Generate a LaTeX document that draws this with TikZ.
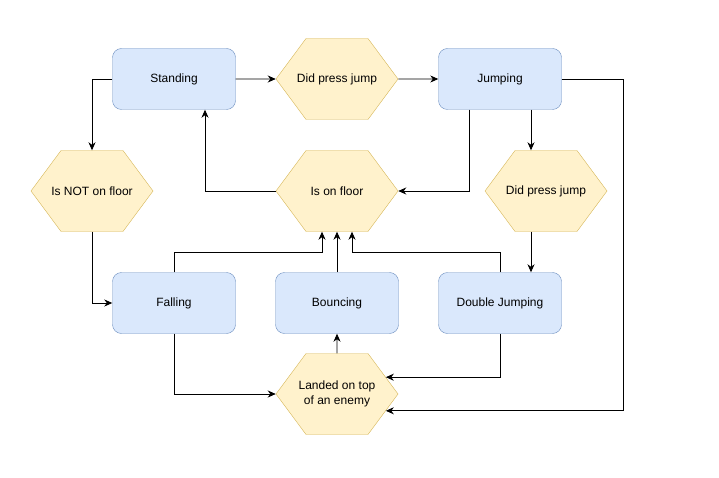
\documentclass[tikz,border=0pt]{standalone}
\usepackage{fontspec}
\setmainfont{Liberation Sans}
\usetikzlibrary{shapes.symbols,arrows.meta}
\definecolor{stateblue}{RGB}{218,232,252}
\definecolor{stateline}{RGB}{108,142,191}
\definecolor{condyellow}{RGB}{255,242,204}
\definecolor{condline}{RGB}{214,182,86}

\begin{document}
\begin{tikzpicture}[x=1pt,y=-1pt,
	state/.style={draw=stateline, fill=stateblue, rounded corners=9pt, minimum width=123pt, minimum height=61pt, font=\fontsize{12}{14.4}\selectfont},
	cond/.style={shape=signal, signal to=east and west, signal pointer angle=106.9, draw=condline, fill=condyellow, minimum width=122pt, minimum height=81pt, inner xsep=-30pt, inner ysep=0pt, align=center, font=\fontsize{12}{14.4}\selectfont},
	arr/.style={-{Stealth[length=8pt,width=7pt,inset=2.5pt]}, line width=0.8pt}]
		\useasboundingbox (0,0) rectangle (719,478);
		% states
		\node[state] (stand)  at (174,79)  {Standing};
		\node[state] (jump)   at (500,79)  {Jumping};
		\node[state] (fall)   at (174,303) {Falling};
		\node[state] (bounce) at (337,303) {Bouncing};
		\node[state] (djump)  at (500,303) {Double Jumping};
		% conditions
		\node[cond] (pj1)      at (337,79)  {Did press jump};
		\node[cond] (notfloor) at (92,191)  {Is NOT on floor};
		\node[cond] (onfloor)  at (337,191) {Is on floor};
		\node[cond] (pj2)      at (546,191) {Did press jump};
		\node[cond] (land)     at (337,394) {Landed on top\\of an enemy};

		\draw[arr] (stand) -- (pj1);
		\draw[arr] (pj1) -- (jump);
		\draw[arr] (stand.west) -| (notfloor.north);
		\draw[arr] (notfloor.south) |- (fall.west);
		\draw[arr] (onfloor.west) -| ([xshift=31pt]stand.south);
		\draw[arr] ([xshift=-31pt]jump.south) |- (onfloor.east);
		\draw[arr] ([xshift=31pt]jump.south) -- ([xshift=31pt]jump.south |- pj2.north);
		\draw[arr] ([xshift=31pt]djump.north |- pj2.south) -- ([xshift=31pt]djump.north);
		\draw[arr] (jump.east) -- ++(62,0) |- (land.-19);
		\draw[arr] (djump.south) |- (land.19);
		\draw[arr] (fall.south) |- (land.west);
		\draw[arr] (land) -- (bounce);
		\draw[arr] (bounce) -- (onfloor);
		\draw[arr] (fall.north) -- ++(0,-20) -| ([xshift=-15pt]onfloor.south);
		\draw[arr] (djump.north) -- ++(0,-20) -| ([xshift=15pt]onfloor.south);
\end{tikzpicture}
\end{document}
